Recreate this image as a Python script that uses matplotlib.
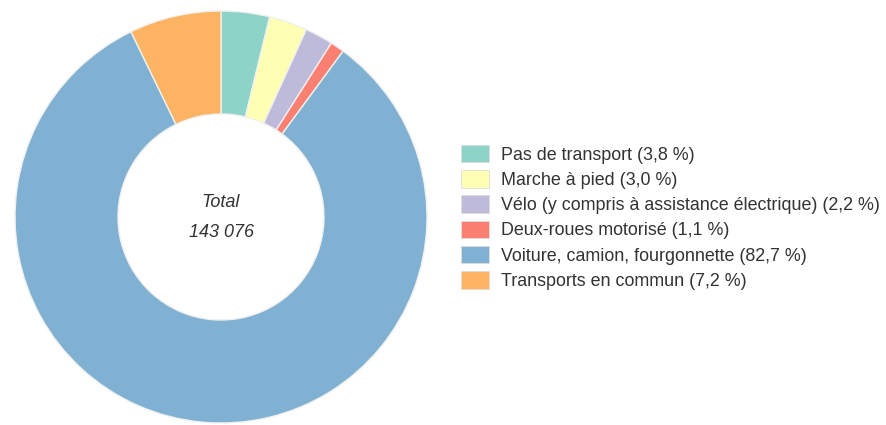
import matplotlib
matplotlib.use("Agg")
import matplotlib.pyplot as plt
from matplotlib.patches import Patch

plt.rcParams['font.family'] = ['Liberation Sans', 'DejaVu Sans']

categories = [
    "Pas de transport",
    "Marche à pied",
    "Vélo (y compris à assistance électrique)",
    "Deux-roues motorisé",
    "Voiture, camion, fourgonnette",
    "Transports en commun",
]
shares = [3.8, 3.0, 2.2, 1.1, 82.7, 7.2]
colors = ["#8dd3c7", "#ffffb3", "#bebada", "#fb8072", "#80b1d3", "#fdb462"]
total_label = "143 076"

W, H = 886, 425
fig = plt.figure(figsize=(W / 100, H / 100), dpi=100)

cx, cy, r = 221, 217, 206
ax = fig.add_axes([(cx - r) / W, (H - cy - r) / H, 2 * r / W, 2 * r / H])
ax.pie(shares, colors=colors, startangle=90, counterclock=False,
       radius=1.0,
       wedgeprops=dict(width=0.5, edgecolor="#f0f0f0", linewidth=1.0))
ax.set_xlim(-1, 1)
ax.set_ylim(-1, 1)
ax.set_aspect("equal")
ax.axis("off")

ax.text(0, 0.068, "Total", ha="center", va="center", fontsize=13,
        style="italic", color="#333333")
ax.text(0, -0.075, total_label, ha="center", va="center", fontsize=13,
        style="italic", color="#333333")

fs = 12.9
px = fs * 100 / 72
handles = [Patch(facecolor=c, edgecolor="#dddddd", linewidth=0.6) for c in colors]
labels = [f"{c} ({str(v).replace('.', ',')} %)" for c, v in zip(categories, shares)]
fig.legend(handles, labels, loc="upper left",
           bbox_to_anchor=(461 / W, 1 - 145 / H),
           frameon=False, fontsize=fs,
           handlelength=28 / px, handleheight=20 / px,
           labelspacing=0.36, handletextpad=12 / px,
           borderpad=0, borderaxespad=0,
           labelcolor="#333333")

fig.savefig("out.png", dpi=100, facecolor="white")
